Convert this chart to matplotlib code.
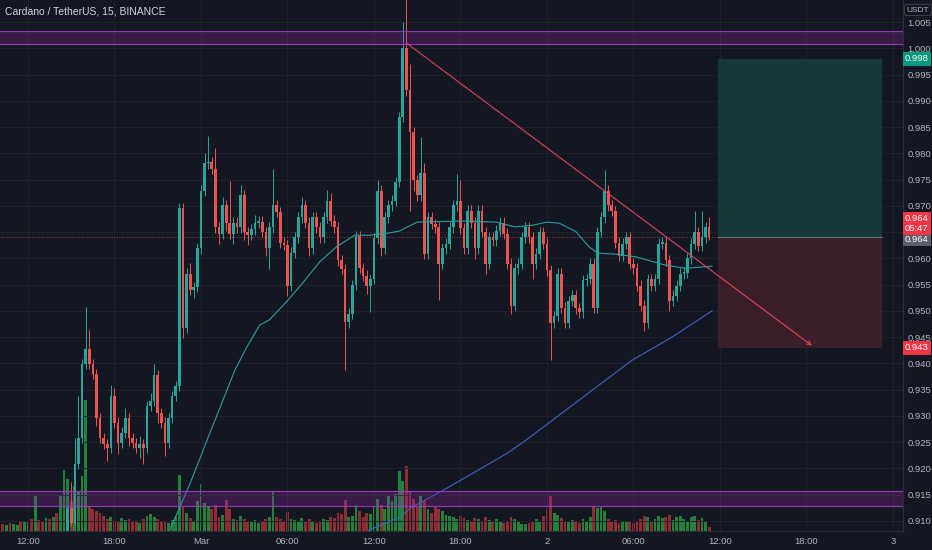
import matplotlib
matplotlib.use('Agg')
import matplotlib.pyplot as plt
import matplotlib.transforms as mtransforms
from matplotlib.patches import Rectangle
import numpy as np

plt.rcParams['font.family'] = ['Liberation Sans', 'DejaVu Sans']

# 15 min candles, index 0 = 12:00 on 28 Feb
first_idx = -7
first_open = 0.9005
close = [
    0.900, 0.901, 0.899, 0.902, 0.903, 0.901, 0.902, 0.904, 0.903, 0.905,
    0.904, 0.903, 0.905, 0.904, 0.906, 0.905, 0.906, 0.907, 0.9125, 0.9096,
    0.9208, 0.9258, 0.9399, 0.9428, 0.9399, 0.9380, 0.9296, 0.9258, 0.9247, 0.9239,
    0.9338, 0.9287, 0.9248, 0.9268, 0.9296, 0.9258, 0.9248, 0.9239, 0.9247, 0.9239,
    0.9319, 0.9329, 0.9378, 0.9306, 0.9287, 0.9248, 0.9296, 0.9338, 0.9357, 0.9695,
    0.9468, 0.9571, 0.9540, 0.9545, 0.9619, 0.9729, 0.9781, 0.9783, 0.9771, 0.9659,
    0.9647, 0.9701, 0.9668, 0.9647, 0.9668, 0.9659, 0.9720, 0.9650, 0.9645, 0.9655,
    0.9668, 0.9670, 0.9650, 0.9619, 0.9659, 0.9701, 0.9688, 0.9630, 0.9625, 0.9548,
    0.9611, 0.9640, 0.9678, 0.9701, 0.9668, 0.9619, 0.9678, 0.9659, 0.9640, 0.9678,
    0.9710, 0.9672, 0.9659, 0.9596, 0.9580, 0.9478, 0.9495, 0.9549, 0.9643, 0.9582,
    0.9567, 0.9548, 0.9561, 0.9638, 0.9729, 0.9619, 0.9678, 0.9701, 0.9710, 0.9745,
    0.9869, 1.0000, 0.9920, 0.9840, 0.9749, 0.9720, 0.9762, 0.9609, 0.9678, 0.9665,
    0.9659, 0.9590, 0.9619, 0.9628, 0.9659, 0.9701, 0.9710, 0.9657, 0.9619, 0.9691,
    0.9668, 0.9619, 0.9691, 0.9650, 0.9590, 0.9640, 0.9634, 0.9653, 0.9668, 0.9647,
    0.9590, 0.9510, 0.9581, 0.9590, 0.9640, 0.9659, 0.9640, 0.9590, 0.9609, 0.9650,
    0.9628, 0.9577, 0.9477, 0.9490, 0.9571, 0.9506, 0.9477, 0.9519, 0.9530, 0.9505,
    0.9497, 0.9558, 0.9561, 0.9590, 0.9506, 0.9650, 0.9678, 0.9729, 0.9701, 0.9690,
    0.9630, 0.9605, 0.9628, 0.9640, 0.9590, 0.9581, 0.9548, 0.9510, 0.9477, 0.9561,
    0.9548, 0.9561, 0.9628, 0.9630, 0.9596, 0.9519, 0.9529, 0.9548, 0.9571, 0.9573,
    0.9600, 0.9628, 0.9650, 0.9624, 0.9640, 0.9659, 0.9640,
]
# wick lengths in 0.001, default 1
wick_up = {11: 0.5, 12: 5, 13: 5, 14: 8, 16: 8, 17: 3.5, 23: 2, 24: 1.5, 27: 2, 31: 1.5,
           34: 1.5, 35: 2, 45: 2, 49: 2, 50: 5, 52: 4, 54: 1.5, 56: 8, 59: 2, 63: 1.5,
           68: 7, 76: 1.5, 83: 2, 84: 1.5, 97: 2, 104: 5, 105: 12, 106: 5, 109: 7, 110: 2,
           119: 5, 120: 4, 160: 4, 185: 4, 187: 5, 189: 2}
wick_lo = {11: 1, 12: 0.5, 13: 0.5, 19: 1.5, 22: 2.5, 25: 2, 28: 1.5, 31: 2, 32: 3, 36: 2,
           38: 2.5, 43: 2, 46: 1.5, 53: 2, 55: 1.5, 57: 2, 60: 1.5, 61: 2, 66: 1.5, 67: 4,
           72: 2, 78: 1.5, 88: 9, 94: 1.5, 95: 5, 98: 1.5, 106: 15, 107: 2, 114: 7, 124: 2,
           127: 2, 134: 1.5, 140: 3, 145: 7, 171: 1.5, 178: 2, 189: 0.5}
volume = [
    7, 6, 8, 7, 6, 9, 10, 10, 12, 36,
    11, 10, 13, 12, 14, 18, 36, 60, 52, 30,
    45, 40, 55, 130, 25, 22, 20, 18, 15, 12,
    14, 10, 9, 13, 11, 12, 9, 10, 8, 12,
    15, 17, 14, 12, 9, 10, 8, 11, 14, 56,
    24, 18, 13, 10, 30, 47, 28, 25, 22, 26,
    14, 16, 31, 22, 12, 11, 15, 12, 10, 9,
    11, 8, 10, 12, 14, 39, 14, 12, 10, 19,
    12, 11, 9, 13, 10, 12, 9, 8, 10, 12,
    11, 14, 13, 18, 17, 31, 14, 15, 26, 20,
    14, 18, 17, 24, 32, 26, 22, 35, 30, 37,
    59, 50, 64, 40, 32, 25, 35, 30, 22, 18,
    24, 22, 20, 16, 15, 14, 12, 15, 13, 11,
    10, 13, 12, 10, 14, 11, 10, 12, 9, 8,
    10, 14, 12, 9, 7, 7, 8, 9, 12, 10,
    15, 22, 36, 18, 16, 13, 10, 9, 11, 10,
    8, 12, 9, 14, 24, 23, 24, 20, 12, 10,
    11, 8, 10, 9, 9, 8, 10, 12, 15, 14,
    10, 12, 15, 13, 14, 16, 11, 14, 15, 12,
    10, 14, 15, 11, 13, 10, 4,
]

# moving averages (index, price)
ma_fast_x = [37, 40.2, 45, 49.7, 57.4, 60.7, 64.3, 67, 71.7, 76.2, 80.9, 85.6, 90.6, 94.7,
             100, 103, 108, 120, 130, 135, 140, 144, 147.4, 152, 155.7, 158, 163, 168.6,
             176.9, 182.5, 189.8]
ma_fast_y = [0.9050, 0.9096, 0.9172, 0.9254, 0.9387, 0.9431, 0.9473, 0.9483, 0.9517, 0.9553,
             0.9593, 0.9622, 0.9644, 0.9644, 0.9648, 0.9652, 0.9669, 0.9671, 0.9669, 0.9660,
             0.9663, 0.9669, 0.9667, 0.9651, 0.9622, 0.9610, 0.9608, 0.9603, 0.9587, 0.9581,
             0.9585]
ma_slow_x = [92.5, 94.7, 103.2, 106, 116.9, 133, 138.2, 152.9, 167.6, 178.7, 189.8]
ma_slow_y = [0.9065, 0.9083, 0.9107, 0.9124, 0.9165, 0.9229, 0.9254, 0.9330, 0.9406, 0.9450,
             0.9500]

# drawings
zone_top = (1.0009, 1.0033)
zone_bottom = (0.9128, 0.9157)
trend_x = [105.2, 217.5]
trend_y = [1.0009, 0.9434]
pos_x = (191.5, 237.0)
pos_entry, pos_target, pos_stop = 0.964, 0.998, 0.943
last_price = 0.964

tick_pos = [0, 24, 48, 72, 96, 120, 144, 168, 192, 216, 240]
tick_lab = ['12:00', '18:00', 'Mar', '06:00', '12:00', '18:00', '2', '06:00', '12:00', '18:00', '3']
price_ticks = [0.910, 0.915, 0.920, 0.925, 0.930, 0.935, 0.940, 0.945, 0.950, 0.955, 0.960,
               0.965, 0.970, 0.975, 0.980, 0.985, 0.990, 0.995, 1.000, 1.005]

BG = '#131722'
TXT = '#b2b5be'
GRID = '#1f2330'
UP = '#26a69a'
DN = '#ef5350'

fig = plt.figure(figsize=(9.32, 5.5), dpi=100, facecolor=BG)
ax_vol = fig.add_axes([0, 19 / 550, 903 / 932, 531 / 550])
ax = ax_vol.twinx()
ax_vol.set_facecolor(BG)
ax.set_zorder(ax_vol.get_zorder() + 1)
ax.patch.set_visible(False)

idx = np.arange(first_idx, first_idx + len(close))
c = np.array(close)
o = np.r_[first_open, c[:-1]]
uw = np.array([wick_up.get(i, 1.0) for i in idx]) * 0.001
lw_ = np.array([wick_lo.get(i, 1.0) for i in idx]) * 0.001
hi = np.maximum(o, c) + uw
lo = np.minimum(o, c) - lw_
rising = c >= o
col = np.where(rising, UP, DN)

# volume
vcol = np.where(rising, '#22823a', '#902c33')
ax_vol.bar(idx, volume, width=0.78, color=vcol, linewidth=0)
ax_vol.set_ylim(0, max(volume) * 4.05)
ax_vol.set_yticks([])

# grid
for t in tick_pos:
    ax.axvline(t, color=GRID, lw=0.7, zorder=0)
for p in price_ticks:
    ax.axhline(p, color=GRID, lw=0.7, zorder=0)

# position tool
ax.add_patch(Rectangle((pos_x[0], pos_entry), pos_x[1] - pos_x[0], pos_target - pos_entry,
                       fc='#163a39', ec='none', zorder=1))
ax.add_patch(Rectangle((pos_x[0], pos_stop), pos_x[1] - pos_x[0], pos_entry - pos_stop,
                       fc='#3a1e29', ec='none', zorder=1))
ax.plot(pos_x, [pos_entry, pos_entry], color='#6a6d78', lw=0.8, zorder=1)

# last price line
ax.plot([idx[0] - 2, pos_x[0]], [last_price, last_price], color=DN, lw=0.6,
        ls=(0, (1, 2)), alpha=0.8, zorder=1)

# candles
ax.vlines(idx, lo, hi, colors=col, lw=0.7, zorder=2)
body = np.maximum(np.abs(c - o), 0.00025)
ax.bar(idx, body, bottom=np.minimum(o, c), width=0.74, color=col, linewidth=0, zorder=3)

# moving averages
ax.plot(ma_fast_x, ma_fast_y, color='#2a9da3', lw=0.8, zorder=3)
ax.plot(ma_slow_x, ma_slow_y, color='#3a62c4', lw=0.8, zorder=3)

# zones
for z in (zone_top, zone_bottom):
    ax.axhspan(z[0], z[1], color='#9c27b0', alpha=0.25, lw=0, zorder=4)
    ax.axhline(z[0], color='#9c3cc0', lw=0.9, alpha=0.9, zorder=4)
    ax.axhline(z[1], color='#9c3cc0', lw=0.9, alpha=0.9, zorder=4)

# trend line
ax.annotate('', xy=(trend_x[1], trend_y[1]), xytext=(trend_x[0], trend_y[0]),
            arrowprops=dict(arrowstyle='->', color='#e0435a', lw=0.8, shrinkA=0, shrinkB=0,
                            mutation_scale=7), zorder=5)

ax.set_xlim(-7.77, 242.8)
ax.set_ylim(0.90809, 1.00919)

ax.set_xticks(tick_pos)
ax.set_xticklabels(tick_lab)
ax_vol.set_xticks(tick_pos)
ax_vol.set_xticklabels(tick_lab)
ax_vol.tick_params(axis='x', length=0, pad=4, labelsize=6.8, colors=TXT)
ax.tick_params(axis='x', length=0, labelbottom=False)

ax.yaxis.tick_right()
ax.set_yticks(price_ticks)
ax.set_yticklabels(['' if abs(p - 0.965) < 1e-6 else f'{p:.3f}' for p in price_ticks])
ax.tick_params(axis='y', length=0, pad=3, labelsize=6.8, colors=TXT)

for a in (ax, ax_vol):
    for s in a.spines.values():
        s.set_visible(False)
ax.spines['right'].set_visible(True)
ax.spines['right'].set_color('#2a2e39')
ax.spines['bottom'].set_visible(True)
ax.spines['bottom'].set_color('#2a2e39')

# right scale labels
blend = mtransforms.blended_transform_factory(ax.transAxes, ax.transData)
xl = 1.0155


def price_tag(y, s, fc, dy=0, fs=6.8, color='white'):
    ax.annotate(s, xy=(xl, y), xycoords=blend, xytext=(0, dy), textcoords='offset points',
                ha='center', va='center', fontsize=fs, color=color, annotation_clip=False,
                linespacing=1.05,
                bbox=dict(boxstyle='square,pad=0.25', fc=fc, ec='none'), zorder=10)


price_tag(pos_target, f'{pos_target:.3f}', '#089981')
price_tag(pos_stop, f'{pos_stop:.3f}', '#f23645')
price_tag(pos_entry, f'{pos_entry:.3f}', '#5d606b', dy=-1.5)
price_tag(last_price, f'{last_price:.3f}\n05:47', '#f23645', dy=10)

fig.text(5 / 932, 1 - 11 / 550, 'Cardano / TetherUS, 15, BINANCE', fontsize=7.5,
         color='#d1d4dc', ha='left', va='center')
fig.text(918 / 932, 1 - 10 / 550, 'USDT', fontsize=6, color=TXT, ha='center', va='center',
         bbox=dict(boxstyle='round,pad=0.25', fc=BG, ec='#434651', lw=0.6))

fig.savefig('out.png', dpi=100, facecolor=BG)
